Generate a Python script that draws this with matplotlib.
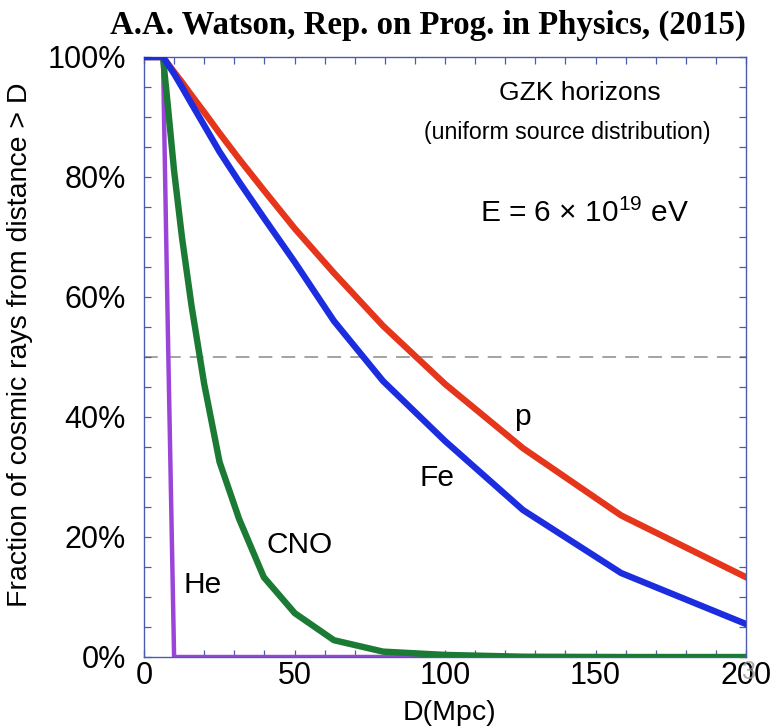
#!/usr/bin/env python3
"""
GZK horizons: fraction of cosmic rays arriving from beyond distance D
(uniform source distribution, E = 6e19 eV) for p, He, CNO and Fe.
Redrawn after A.A. Watson, Rep. Prog. Phys. (2015).
"""

import matplotlib

matplotlib.use("Agg")
import matplotlib.pyplot as plt
from matplotlib.ticker import MultipleLocator, PercentFormatter

# distance grid (Mpc) -- log spaced points after the flat start
D_MPC = [0, 6.3, 7.9, 10, 12.6, 15.8, 20, 25.1, 31.6, 39.8, 50.1, 63.1, 79.4, 100, 125.9, 158.5, 200]

# fraction (%) of cosmic rays from distance > D
FRAC_P = [100, 100, 98.9, 97.5, 95.8, 93.6, 90.8, 87.3, 83.0, 77.8, 71.4, 64.0, 55.2, 45.5, 34.8, 23.6, 13.3]
FRAC_FE = [100, 100, 98.8, 97.2, 95.0, 92.2, 88.6, 84.2, 79.2, 73.2, 65.8, 56.0, 46.0, 36.0, 24.5, 14.0, 5.5]
FRAC_CNO = [100, 100, 92, 81, 70, 58.5, 45.5, 32.5, 23.0, 13.3, 7.3, 2.8, 0.9, 0.35, 0.05, 0, 0]
FRAC_HE = [100, 100, 55, 0, 0, 0, 0, 0, 0, 0, 0, 0, 0, 0, 0, 0, 0]

SANS = ["Liberation Sans", "DejaVu Sans"]
SERIF = ["Liberation Serif", "DejaVu Serif"]
AXIS_COLOR = "#4b5cb0"

plt.rcParams["font.family"] = SANS
plt.rcParams["mathtext.fontset"] = "custom"
plt.rcParams["mathtext.rm"] = "Liberation Sans"


def main() -> None:
    fig = plt.figure(figsize=(7.81, 7.28), dpi=100)
    ax = fig.add_axes([144 / 781, 71 / 728, 602 / 781, 600 / 728])

    # order matters: He under CNO, red under blue at the flat start
    ax.plot(D_MPC, FRAC_HE, color="#9b45d8", lw=3.2, zorder=2)
    ax.plot(D_MPC, FRAC_CNO, color="#1b7a34", lw=4.6, zorder=3)
    ax.plot(D_MPC, FRAC_P, color="#e5361c", lw=4.6, zorder=4)
    ax.plot(D_MPC, FRAC_FE, color="#1c2de0", lw=4.6, zorder=5)

    ax.axhline(50, color="#8a8a8a", lw=1.1, dashes=(9, 6), zorder=1)

    ax.set_xlim(0, 200)
    ax.set_ylim(0, 100)
    ax.xaxis.set_major_locator(MultipleLocator(50))
    ax.xaxis.set_minor_locator(MultipleLocator(10))
    ax.yaxis.set_major_locator(MultipleLocator(20))
    ax.yaxis.set_minor_locator(MultipleLocator(5))
    ax.yaxis.set_major_formatter(PercentFormatter(decimals=0))

    for sp in ax.spines.values():
        sp.set_color(AXIS_COLOR)
        sp.set_linewidth(1.0)
    ax.tick_params(which="both", direction="in", top=True, right=True,
                   length=5, width=0.9, color=AXIS_COLOR, labelsize=22)
    ax.tick_params(axis="x", pad=3)
    ax.tick_params(axis="y", pad=13)

    ax.set_xlabel("D(Mpc)", fontsize=20.5)
    ax.xaxis.set_label_coords(0.507, -0.071)
    ax.set_ylabel("Fraction of cosmic rays from distance > D", fontsize=20.5)
    ax.yaxis.set_label_coords(-0.184, 0.52)

    ax.text(144.9, 94, "GZK horizons", fontsize=19, ha="center", va="center")
    ax.text(140.7, 87.5, "(uniform source distribution)", fontsize=16.7, ha="center", va="center")
    ax.text(146.2, 74, r"E = 6 × 10$^{19}$ eV", fontsize=21.5, ha="center", va="center")

    ax.text(125.6, 40, "p", fontsize=21.5, ha="center", va="center")
    ax.text(97.3, 29.8, "Fe", fontsize=21.5, ha="center", va="center")
    ax.text(51.8, 18.7, "CNO", fontsize=21.5, ha="center", va="center")
    ax.text(19.6, 12, "He", fontsize=21.5, ha="center", va="center")

    fig.text(428 / 781, 1 - 25 / 728, "A.A. Watson, Rep. on Prog. in Physics, (2015)",
             family=SERIF, fontweight="bold", fontsize=23.6, ha="center", va="center")

    # slide page number overlapping the last tick label
    fig.text(749 / 781, 1 - 672 / 728, "3", fontsize=18, color="#9a9a9a", alpha=0.8,
             ha="center", va="center")

    fig.savefig("out.png", dpi=100)
    plt.close(fig)


if __name__ == "__main__":
    main()
